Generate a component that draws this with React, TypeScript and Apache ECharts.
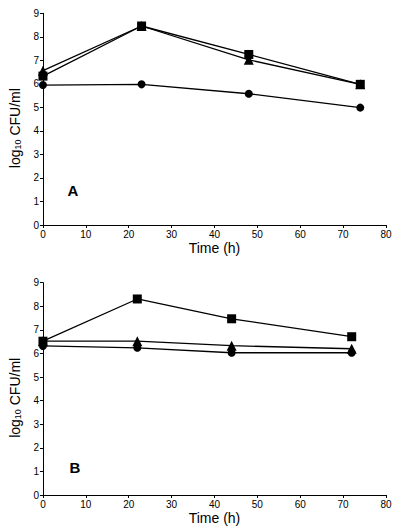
import React, { useEffect, useRef } from "react";
import * as echarts from "echarts";

const xTicksMax = 80;
const yTicksMax = 9;

// Panel A
const timeA = [0, 23, 48, 74];
const squareA = [6.33, 8.46, 7.25, 5.98];
const triangleA = [6.56, 8.46, 7.02, 5.98];
const circleA = [5.95, 5.98, 5.58, 4.99];

// Panel B
const timeB = [0, 22, 44, 72];
const squareB = [6.52, 8.31, 7.47, 6.71];
const triangleB = [6.52, 6.52, 6.33, 6.2];
const circleB = [6.32, 6.24, 6.03, 6.03];

const panelLabels = ["A", "B"];

const FONT = "Liberation Sans, Arial, Helvetica, sans-serif";

function pairs(xs: number[], ys: number[]) {
  return xs.map((x, i) => [x, ys[i]]);
}

export default function App() {
  const ref = useRef<HTMLDivElement>(null);
  useEffect(() => {
    if (!ref.current) return;
    const chart = echarts.init(ref.current, null, { renderer: "svg" });
    const grids = [
      { left: 40, top: 13.3, width: 346, height: 211.7 },
      { left: 40, top: 282.7, width: 346, height: 212.3 },
    ];
    const xAxis = [0, 1].map((i) => ({
      type: "value",
      gridIndex: i,
      min: 0,
      max: xTicksMax,
      interval: 10,
      name: "Time (h)",
      nameLocation: "middle",
      nameGap: 16,
      nameTextStyle: { fontFamily: FONT, fontSize: 14, color: "#000", verticalAlign: "top" },
      axisLine: { show: true, onZero: false, lineStyle: { color: "#000", width: 1 } },
      axisTick: { show: true, length: 3, lineStyle: { color: "#000", width: 1 } },
      axisLabel: { fontFamily: FONT, fontSize: 10, color: "#000", margin: 4 },
      splitLine: { show: false },
    }));
    const yAxis = [0, 1].map((i) => ({
      type: "value",
      gridIndex: i,
      min: 0,
      max: yTicksMax,
      interval: 1,
      name: "{a|log}{s|10}{a| CFU/ml}",
      nameLocation: "middle",
      nameGap: 17,
      nameRotate: 90,
      nameTextStyle: {
        fontFamily: FONT,
        color: "#000",
        padding: [0, 18, 0, 0],
        rich: {
          a: { fontFamily: FONT, fontSize: 14, color: "#000" },
          s: { fontFamily: FONT, fontSize: 9, color: "#000", verticalAlign: "bottom", padding: [6, 0, 0, 0] },
        },
      },
      axisLine: { show: true, onZero: false, lineStyle: { color: "#000", width: 1 } },
      axisTick: { show: true, length: 3, lineStyle: { color: "#000", width: 1 } },
      axisLabel: { fontFamily: FONT, fontSize: 10, color: "#000", margin: 4 },
      splitLine: { show: false },
    }));
    const mk = (
      idx: number,
      data: number[][],
      symbol: string,
      size: number,
      z: number
    ) => ({
      type: "line",
      xAxisIndex: idx,
      yAxisIndex: idx,
      data,
      symbol,
      symbolSize: size,
      showSymbol: true,
      z,
      lineStyle: { color: "#000", width: 1.3 },
      itemStyle: { color: "#000", borderWidth: 0 },
    });
    const series = [
      mk(0, pairs(timeA, circleA), "circle", 8, 2),
      mk(0, pairs(timeA, triangleA), "triangle", 10, 3),
      mk(0, pairs(timeA, squareA), "rect", 9, 4),
      mk(1, pairs(timeB, circleB), "circle", 8, 2),
      mk(1, pairs(timeB, triangleB), "triangle", 10, 3),
      mk(1, pairs(timeB, squareB), "rect", 9, 4),
    ];
    chart.setOption({
      animation: false,
      backgroundColor: "#fff",
      grid: grids,
      xAxis,
      yAxis,
      series,
      graphic: [
        {
          type: "text",
          x: 73,
          y: 190,
          style: {
            text: panelLabels[0],
            fontFamily: FONT,
            fontSize: 15,
            fontWeight: "bold",
            fill: "#000",
            align: "center",
            verticalAlign: "middle",
          },
        },
        {
          type: "text",
          x: 75,
          y: 467,
          style: {
            text: panelLabels[1],
            fontFamily: FONT,
            fontSize: 15,
            fontWeight: "bold",
            fill: "#000",
            align: "center",
            verticalAlign: "middle",
          },
        },
      ],
    });
    return () => chart.dispose();
  }, []);
  return (
    <div
      ref={ref}
      style={{ position: "fixed", left: 0, top: 0, width: 400, height: 530, background: "#fff" }}
    />
  );
}
